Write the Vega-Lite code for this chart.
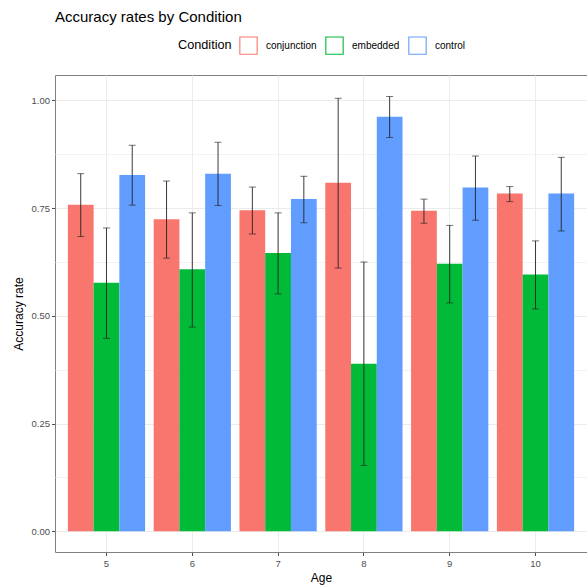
{
  "$schema": "https://vega.github.io/schema/vega-lite/v6.json",
  "autosize": "none",
  "padding": {"left": 55, "top": 75, "right": 0, "bottom": 35},
  "width": 532,
  "height": 477,
  "background": "white",
  "title": {"text": "Accuracy rates by Condition", "anchor": "start", "frame": "group", "font": "Liberation Sans", "fontSize": 15, "fontWeight": "normal", "color": "#000000", "offset": -1, "baseline": "alphabetic"},
  "config": {
    "font": "Liberation Sans",
    "view": {"stroke": "#808080", "strokeWidth": 1},
    "axis": {"labelFont": "Liberation Sans", "titleFont": "Liberation Sans", "labelColor": "#4D4D4D", "labelFontSize": 9.5, "titleFontSize": 12, "titleFontWeight": "normal", "titleColor": "#000000", "domain": false, "tickColor": "#4D4D4D", "tickSize": 3.5, "gridColor": "#EBEBEB", "gridWidth": 1}
  },
  "data": {"values": [
    {"age": 5, "cond": "conjunction", "mean": 0.758, "lo": 0.684, "hi": 0.830},
    {"age": 5, "cond": "embedded", "mean": 0.577, "lo": 0.448, "hi": 0.704},
    {"age": 5, "cond": "control", "mean": 0.827, "lo": 0.757, "hi": 0.896},
    {"age": 6, "cond": "conjunction", "mean": 0.724, "lo": 0.634, "hi": 0.813},
    {"age": 6, "cond": "embedded", "mean": 0.608, "lo": 0.474, "hi": 0.739},
    {"age": 6, "cond": "control", "mean": 0.830, "lo": 0.756, "hi": 0.903},
    {"age": 7, "cond": "conjunction", "mean": 0.745, "lo": 0.690, "hi": 0.799},
    {"age": 7, "cond": "embedded", "mean": 0.646, "lo": 0.551, "hi": 0.739},
    {"age": 7, "cond": "control", "mean": 0.771, "lo": 0.716, "hi": 0.824},
    {"age": 8, "cond": "conjunction", "mean": 0.809, "lo": 0.611, "hi": 1.005},
    {"age": 8, "cond": "embedded", "mean": 0.389, "lo": 0.153, "hi": 0.625},
    {"age": 8, "cond": "control", "mean": 0.962, "lo": 0.914, "hi": 1.009},
    {"age": 9, "cond": "conjunction", "mean": 0.744, "lo": 0.715, "hi": 0.771},
    {"age": 9, "cond": "embedded", "mean": 0.621, "lo": 0.530, "hi": 0.710},
    {"age": 9, "cond": "control", "mean": 0.798, "lo": 0.722, "hi": 0.871},
    {"age": 10, "cond": "conjunction", "mean": 0.784, "lo": 0.765, "hi": 0.800},
    {"age": 10, "cond": "embedded", "mean": 0.596, "lo": 0.516, "hi": 0.674},
    {"age": 10, "cond": "control", "mean": 0.784, "lo": 0.697, "hi": 0.868}
  ]},
  "encoding": {
    "x": {"field": "age", "type": "ordinal", "title": "Age",
      "scale": {"paddingInner": 0.1, "paddingOuter": 0.15},
      "axis": {"labelAngle": 0, "grid": true, "bandPosition": 0.5, "titlePadding": 4, "labelPadding": 3}},
    "xOffset": {"field": "cond", "type": "nominal", "sort": ["conjunction", "embedded", "control"], "scale": {"paddingInner": 0, "paddingOuter": 0}}
  },
  "layer": [
    {
      "mark": {"type": "bar"},
      "encoding": {
        "y": {"field": "mean", "type": "quantitative", "title": "Accuracy rate",
          "scale": {"domain": [-0.048, 1.059], "nice": false, "zero": false},
          "axis": {"values": [0, 0.125, 0.25, 0.375, 0.5, 0.625, 0.75, 0.875, 1.0],
            "labelExpr": "datum.value % 0.25 === 0 ? format(datum.value, '.2f') : ''",
            "tickOpacity": {"condition": {"test": "datum.value % 0.25 !== 0", "value": 0}, "value": 1},
            "gridColor": {"condition": {"test": "datum.value % 0.25 !== 0", "value": "#F2F2F2"}, "value": "#EBEBEB"},
            "titlePadding": 6, "labelPadding": 2}},
        "fill": {"field": "cond", "type": "nominal", "title": "Condition",
          "scale": {"domain": ["conjunction", "embedded", "control"], "range": ["#F8766D", "#00BA38", "#619CFF"]},
          "legend": {"orient": "none", "direction": "horizontal", "legendX": 123, "legendY": -39,
            "titleOrient": "left", "titleFontSize": 12.7, "titleFontWeight": "normal", "titleColor": "#000000", "titleFont": "Liberation Sans",
            "labelFontSize": 10, "labelColor": "#000000", "labelFont": "Liberation Sans",
            "symbolType": "M-1,-1H1V1H-1Z M-0.88,-0.88V0.88H0.88V-0.88Z", "symbolSize": 340, "symbolStrokeWidth": 0,
            "columnPadding": 8, "labelOffset": 8, "titlePadding": 7}}
      }
    },
    {
      "mark": {"type": "rule", "color": "#222222", "strokeWidth": 0.9},
      "encoding": {"y": {"field": "lo", "type": "quantitative"}, "y2": {"field": "hi"}}
    },
    {
      "mark": {"type": "tick", "color": "#222222", "thickness": 0.9, "size": 7},
      "encoding": {"y": {"field": "lo", "type": "quantitative"}}
    },
    {
      "mark": {"type": "tick", "color": "#222222", "thickness": 0.9, "size": 7},
      "encoding": {"y": {"field": "hi", "type": "quantitative"}}
    }
  ]
}
